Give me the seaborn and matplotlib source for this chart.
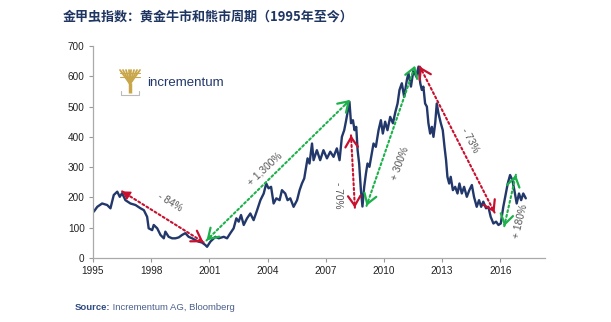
import matplotlib
matplotlib.use("Agg")
import matplotlib.pyplot as plt
import seaborn as sns
import pandas as pd

# ---------------- data ----------------
years = [1995.04, 1995.22, 1995.47, 1995.73, 1995.90, 1996.07, 1996.25, 1996.38, 1996.50, 1996.67,
         1996.93, 1997.19, 1997.45, 1997.62, 1997.79, 1997.87, 1998.05, 1998.13, 1998.31, 1998.48,
         1998.65, 1998.73, 1998.90, 1999.08, 1999.25, 1999.42, 1999.59, 1999.76, 1999.93, 2000.11,
         2000.28, 2000.45, 2000.62, 2000.79, 2000.88,
         2001.05, 2001.31, 2001.48, 2001.74, 2001.91, 2002.08, 2002.25, 2002.39, 2002.51, 2002.63,
         2002.77, 2002.94, 2003.11, 2003.28, 2003.46, 2003.63, 2003.80, 2003.93, 2004.05, 2004.18,
         2004.31, 2004.45, 2004.62, 2004.74, 2004.91, 2005.03, 2005.17, 2005.34, 2005.52, 2005.65,
         2005.77, 2005.89, 2005.99, 2006.06, 2006.16, 2006.29, 2006.37, 2006.54, 2006.71, 2006.88,
         2007.06, 2007.23, 2007.40, 2007.57, 2007.71, 2007.83, 2007.95, 2008.05, 2008.14, 2008.22,
         2008.30, 2008.40, 2008.48, 2008.57, 2008.64, 2008.72, 2008.81, 2008.89, 2008.98, 2009.07,
         2009.15, 2009.25, 2009.34, 2009.46, 2009.58, 2009.72, 2009.84, 2009.94, 2010.06, 2010.18,
         2010.32, 2010.46, 2010.59, 2010.70, 2010.80, 2010.92, 2011.04, 2011.18, 2011.26, 2011.39,
         2011.52, 2011.66, 2011.78, 2011.87, 2011.95, 2012.03, 2012.12, 2012.21, 2012.29, 2012.38,
         2012.47, 2012.55, 2012.64, 2012.72, 2012.81, 2012.93, 2013.03, 2013.12, 2013.20, 2013.27,
         2013.36, 2013.44, 2013.55, 2013.67, 2013.79, 2013.89, 2014.01, 2014.13, 2014.27, 2014.40,
         2014.53, 2014.64, 2014.78, 2014.90, 2015.01, 2015.12, 2015.26, 2015.38, 2015.50, 2015.64,
         2015.78, 2015.90, 2016.02, 2016.15, 2016.28, 2016.38, 2016.50, 2016.62, 2016.72, 2016.84,
         2016.96, 2017.07, 2017.18, 2017.31]

hui = [153, 169, 180, 175, 164, 208, 219, 202, 214, 191,
       180, 175, 164, 158, 136, 98, 92, 109, 98, 76,
       65, 87, 70, 65, 65, 68, 76, 82, 70, 65,
       59, 54, 51, 43, 37,
       54, 70, 65, 70, 65, 82, 98, 131, 120, 142,
       109, 131, 147, 125, 158, 191, 213, 246, 230, 235,
       180, 197, 191, 224, 213, 191, 197, 169, 191, 224,
       246, 263, 301, 329, 312, 378, 323, 356, 323, 356,
       329, 351, 334, 362, 323, 400, 422, 455, 488, 516,
       445, 455, 422, 433, 356, 312, 224, 170, 235, 279,
       312, 301, 334, 378, 367, 422, 455, 411, 450, 422,
       466, 445, 483, 510, 555, 577, 532, 588, 610, 566,
       621, 599, 632, 577, 555, 566, 510, 500, 445, 411,
       433, 400, 445, 510, 477, 445, 422, 367, 323, 268,
       246, 268, 224, 235, 213, 246, 213, 235, 202, 224,
       241, 202, 169, 191, 169, 186, 164, 169, 136, 114,
       120, 109, 114, 169, 213, 246, 274, 257, 224, 180,
       213, 191, 213, 197]

x_ticks = [1995, 1998, 2001, 2004, 2007, 2010, 2013, 2016]
y_ticks = [0, 100, 200, 300, 400, 500, 600, 700]

# cycle arrows: start (year, value), end (year, value), kind, label, label position, rotation
arrow_start = [(1996.5, 220), (2000.85, 58), (2008.3, 405), (2009.1, 172), (2011.85, 632), (2016.2, 105)]
arrow_end = [(2000.7, 52), (2008.25, 522), (2008.5, 166), (2011.6, 635), (2015.7, 150), (2016.8, 275)]
arrow_kind = ["bear", "bull", "bear", "bull", "bear", "bull"]
arrow_labels = ["- 84%", "+ 1,300%", "- 70%", "+ 300%", "- 73%", "+ 180%"]
label_pos = [(1998.95, 185), (2003.85, 295), (2007.65, 208), (2010.85, 312), (2014.45, 390), (2017.05, 122)]
label_rot = [-31, 43, -90, 70, -62, 76]

title = "金甲虫指数：黄金牛市和熊市周期（1995年至今）"
source_bold = "Source:"
source_rest = " Incrementum AG, Bloomberg"

# ---------------- styling ----------------
sns.set_style("ticks")
plt.rcParams["font.family"] = ["Liberation Sans", "DejaVu Sans"]

NAVY = "#22386a"
RED = "#c8102e"
GREEN = "#1db14b"

W, H = 611, 322
fig = plt.figure(figsize=(W / 100, H / 100), dpi=100)
ax = fig.add_axes([93 / W, 1 - 258 / H, (545 - 93) / W, (258 - 46) / H])

df = pd.DataFrame({"year": years, "hui": hui})
sns.lineplot(data=df, x="year", y="hui", ax=ax, color=NAVY, lw=1.7, legend=False)

ax.set_xlim(1995, 2018.3)
ax.set_ylim(0, 700)
ax.set_xticks(x_ticks)
ax.set_yticks(y_ticks)
ax.set_xlabel("")
ax.set_ylabel("")
ax.tick_params(axis="both", labelsize=7.2, colors="#999999", labelcolor="#222222",
               length=3, width=0.8, pad=3)
for s in ["top", "right"]:
    ax.spines[s].set_visible(False)
for s in ["left", "bottom"]:
    ax.spines[s].set_color("#aaaaaa")
    ax.spines[s].set_linewidth(0.9)

# ---------------- arrows ----------------
for (x0, y0), (x1, y1), kind, lab, (lx, ly), rot in zip(arrow_start, arrow_end, arrow_kind,
                                                      arrow_labels, label_pos, label_rot):
    col = RED if kind == "bear" else GREEN
    ax.annotate("", xy=(x1, y1), xytext=(x0, y0),
                arrowprops=dict(arrowstyle="-", color=col, lw=1.5, ls=(0, (1, 1.3)),
                                shrinkA=0, shrinkB=0))
    dx, dy = x1 - x0, y1 - y0
    eps = 0.03
    # head at end
    ax.annotate("", xy=(x1, y1), xytext=(x1 - eps * dx, y1 - eps * dy),
                arrowprops=dict(arrowstyle="->,head_length=0.7,head_width=0.45", color=col,
                                lw=1.6, shrinkA=0, shrinkB=0, mutation_scale=10))
    # head at start
    if lab == "- 84%":
        ax.annotate("", xy=(x0, y0), xytext=(x0 + eps * dx, y0 + eps * dy),
                    arrowprops=dict(arrowstyle="-|>,head_length=0.6,head_width=0.35", color=col,
                                    lw=1.0, shrinkA=0, shrinkB=0, mutation_scale=8))
    else:
        ax.annotate("", xy=(x0, y0), xytext=(x0 + eps * dx, y0 + eps * dy),
                    arrowprops=dict(arrowstyle="->,head_length=0.7,head_width=0.45", color=col,
                                    lw=1.6, shrinkA=0, shrinkB=0, mutation_scale=10))
    ax.text(lx, ly, lab, rotation=rot, ha="center", va="center", fontsize=7.3,
            color="#555555", rotation_mode="anchor")

# ---------------- logo ----------------
GOLD = "#c9a64a"
lax = fig.add_axes([118 / W, 1 - 97 / H, 24 / W, 30 / H])
lax.set_xlim(0, 24)
lax.set_ylim(0, 30)
lax.axis("off")
lax.plot([12, 12], [4, 14], color=GOLD, lw=2.5, solid_capstyle="butt")
for tx in [2, 5, 8, 11, 13, 16, 19, 22]:
    lax.plot([12, tx], [13, 27], color=GOLD, lw=1.3)
lax.plot([2, 22], [20, 20], color=GOLD, lw=0.8)
lax.plot([2, 22], [24, 24], color=GOLD, lw=0.8)
lax.plot([3, 3, 21, 21], [6, 2, 2, 6], color="#bbbbbb", lw=0.8)
fig.text(147 / W, 1 - 83 / H, "incrementum", fontsize=9.5, color=NAVY, ha="left", va="center")

# ---------------- title and source ----------------
fig.text(63 / W, 1 - 17 / H, title, fontsize=9.4, fontweight="bold", color="#1f3562",
         ha="left", va="center", family=["Noto Sans CJK SC", "DejaVu Sans"])
t1 = fig.text(75 / W, 1 - 308 / H, source_bold, fontsize=6.8, fontweight="bold",
              color="#2f4a80", ha="left", va="center")
fig.canvas.draw()
bb = t1.get_window_extent()
fig.text(bb.x1 / W, 1 - 308 / H, source_rest, fontsize=6.8, color="#4a5f8c",
         ha="left", va="center")

fig.savefig("out.png", dpi=100)
